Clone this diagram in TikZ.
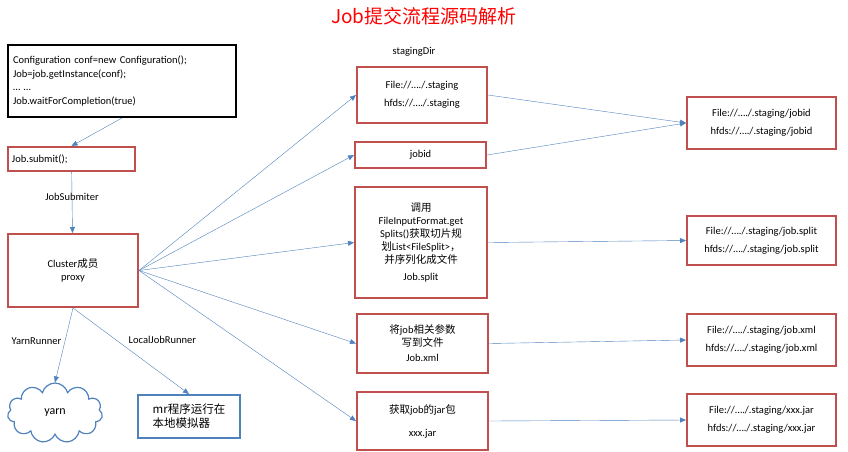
\documentclass[tikz,border=0pt]{standalone}
\usepackage{fontspec}
\setmainfont{Carlito}
\newfontfamily\cjk{Noto Sans CJK SC}
\usetikzlibrary{arrows.meta}
\usetikzlibrary{positioning}
\usetikzlibrary{shapes.symbols}
\definecolor{mred}{HTML}{C0504D}
\definecolor{mblue}{HTML}{4F81BD}
\tikzset{box/.style = {draw=mred, line width=2pt, align=center, font=\fontsize{10.5}{13}\selectfont},
         link/.style = {draw=mblue, -{Triangle[length=6pt, width=5pt]}},
         lbl/.style = {font=\fontsize{10.5}{12}\selectfont}}

\begin{document}
\begin{tikzpicture}[x=1pt, y=-1pt]
    \useasboundingbox (0, 0) rectangle (848, 451);

    \node [text=red, font=\cjk\fontsize{19}{21}\selectfont] (title) at (424, 16) {Job提交流程源码解析};

    \node [draw, line width=2pt, align=left, minimum width=228pt, minimum height=72pt, text width=218pt, font=\fontsize{10.5}{13.5}\selectfont] (code) at (122, 81)
          {Configuration conf=new Configuration();\\Job=job.getInstance(conf);\\… …\\Job.waitForCompletion(true)};
    \node [box, minimum width=127pt, minimum height=24pt, text width=119pt, align=left] (submit) at (71.5, 159) {Job.submit();};
    \node [box, minimum width=130pt, minimum height=73pt] (cluster) at (73, 270.5) {Cluster{\cjk 成员}\\proxy};

    \node [cloud, draw=mblue, line width=1.2pt, cloud puffs=11, minimum width=95pt, minimum height=60pt, font=\fontsize{12}{13}\selectfont] (yarn) at (55, 413) {yarn};
    \node [draw=mblue, line width=2pt, minimum width=102pt, minimum height=43pt, align=left, font=\cjk\fontsize{11.5}{14}\selectfont] (local) at (189, 416.5) {mr程序运行在\\本地模拟器};

    \node [lbl] (stagingdir) at (414, 52) {stagingDir};
    \node [box, minimum width=130pt, minimum height=56pt] (staging) at (422, 95) {File://…./.staging\\[5pt]hfds://…./.staging};
    \node [box, minimum width=131pt, minimum height=26pt] (jobid) at (420.5, 155) {jobid};
    \node [box, minimum width=132pt, minimum height=111pt] (split) at (421, 242.5)
          {{\cjk 调用}\\FileInputFormat.get\\Splits(){\cjk 获取切片规}\\{\cjk 划}List<FileSplit>{\cjk ，}\\{\cjk 并序列化成文件}\\[4pt]Job.split};
    \node [box, minimum width=131pt, minimum height=59pt] (xml) at (422.5, 343.5) {{\cjk 将}job{\cjk 相关参数}\\{\cjk 写到文件}\\[2pt]Job.xml};
    \node [box, minimum width=131pt, minimum height=58pt] (jar) at (422.5, 421) {{\cjk 获取}job{\cjk 的}jar{\cjk 包}\\[10pt]xxx.jar};

    \node [box, minimum width=149pt, minimum height=52pt] (rstaging) at (761.5, 123) {File://…./.staging/jobid\\[5pt]hfds://…./.staging/jobid};
    \node [box, minimum width=149pt, minimum height=49pt] (rsplit) at (761.5, 240.5) {File://…./.staging/job.split\\[5pt]hfds://…./.staging/job.split};
    \node [box, minimum width=149pt, minimum height=52pt] (rxml) at (761.5, 340) {File://…./.staging/job.xml\\[5pt]hfds://…./.staging/job.xml};
    \node [box, minimum width=149pt, minimum height=52pt] (rjar) at (761.5, 420) {File://…./.staging/xxx.jar\\[5pt]hfds://…./.staging/xxx.jar};

    \draw [link] (code.south) -- (submit.north);
    \draw [link] (submit) -- node [lbl, pos=0.4] {JobSubmiter} (cluster);
    \draw [link] (cluster.east) -- (staging.west);
    \draw [link] (cluster.east) -- (jobid.west);
    \draw [link] (cluster.east) -- (split.west);
    \draw [link] (cluster.east) -- (xml.west);
    \draw [link] (cluster.east) -- (jar.west);
    \draw [link] (cluster.south) -- node [lbl, left, pos=0.45] {YarnRunner} (yarn.north);
    \draw [link] (cluster.south) -- node [lbl, above right, pos=0.45] {LocalJobRunner} (local.north);

    \draw [link] (staging.east) -- (rstaging.west);
    \draw [link] (jobid.east) -- (rstaging.west);
    \draw [link] (split.east) -- (rsplit.west);
    \draw [link] (xml.east) -- (rxml.west);
    \draw [link] (jar.east) -- (rjar.west);
\end{tikzpicture}
\end{document}
